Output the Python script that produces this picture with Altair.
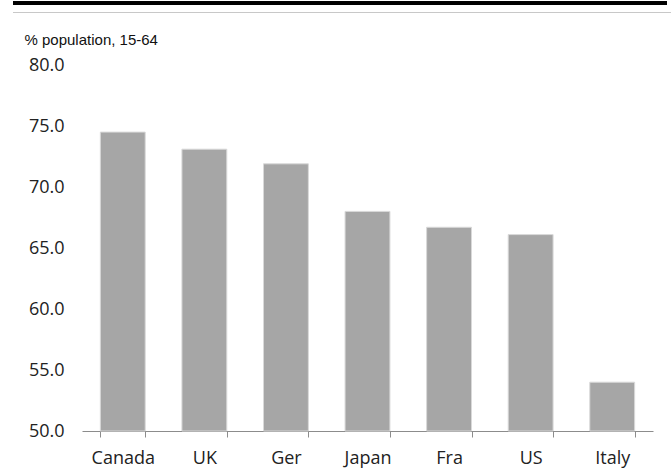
import altair as alt
import pandas as pd

countries = ["Canada", "UK", "Ger", "Japan", "Fra", "US", "Italy"]
values = [74.5, 73.1, 71.9, 68.0, 66.7, 66.1, 54.0]
y_ticks = [50, 55, 60, 65, 70, 75, 80]
unit_label = "% population, 15-64"

df = pd.DataFrame({"country": countries, "value": values})

W, H = 571, 366
FONT = "Open Sans"

bars = alt.Chart(df).mark_bar(color="#a6a6a6", stroke="#d9d9d9", strokeWidth=1).encode(
    x=alt.X("country:N", sort=countries,
            scale=alt.Scale(paddingInner=0.45, paddingOuter=0.225),
            axis=alt.Axis(title=None, labelAngle=0, labelFont=FONT, labelFontSize=18,
                          labelColor="#222222", labelPadding=12,
                          domainColor="#8c8c8c", tickColor="#8c8c8c", tickSize=6,
                          tickBand="extent", grid=False)),
    y=alt.Y("value:Q", scale=alt.Scale(domain=[50, 80], zero=False, nice=False),
            axis=alt.Axis(values=y_ticks, format=".1f", grid=False, domain=False,
                          ticks=False, labelFont=FONT, labelFontSize=18,
                          labelColor="#222222", labelPadding=18,
                          title=unit_label, titleAngle=0, titleAlign="left",
                          titleBaseline="middle", titleX=-58, titleY=-26,
                          titleFont="Liberation Sans", titleFontSize=15,
                          titleFontWeight="normal", titleColor="#111111")),
    y2=alt.datum(50),
)

top_black = alt.Chart(df).mark_rule(color="#000000", strokeWidth=3).encode(
    x=alt.value(-69), x2=alt.value(585), y=alt.value(-62))
top_grey = alt.Chart(df).mark_rule(color="#c8c8c8", strokeWidth=1).encode(
    x=alt.value(-69), x2=alt.value(589), y=alt.value(-52.5))

chart = alt.layer(top_black, top_grey, bars).properties(
    width=W, height=H,
    padding={"left": 82, "top": 65, "right": 18, "bottom": 41},
    autosize=alt.AutoSizeParams(type="none"),
    background="white",
).configure_view(strokeWidth=0, stroke=None)

chart.save("out.html", embed_options={"renderer": "svg", "actions": False})
